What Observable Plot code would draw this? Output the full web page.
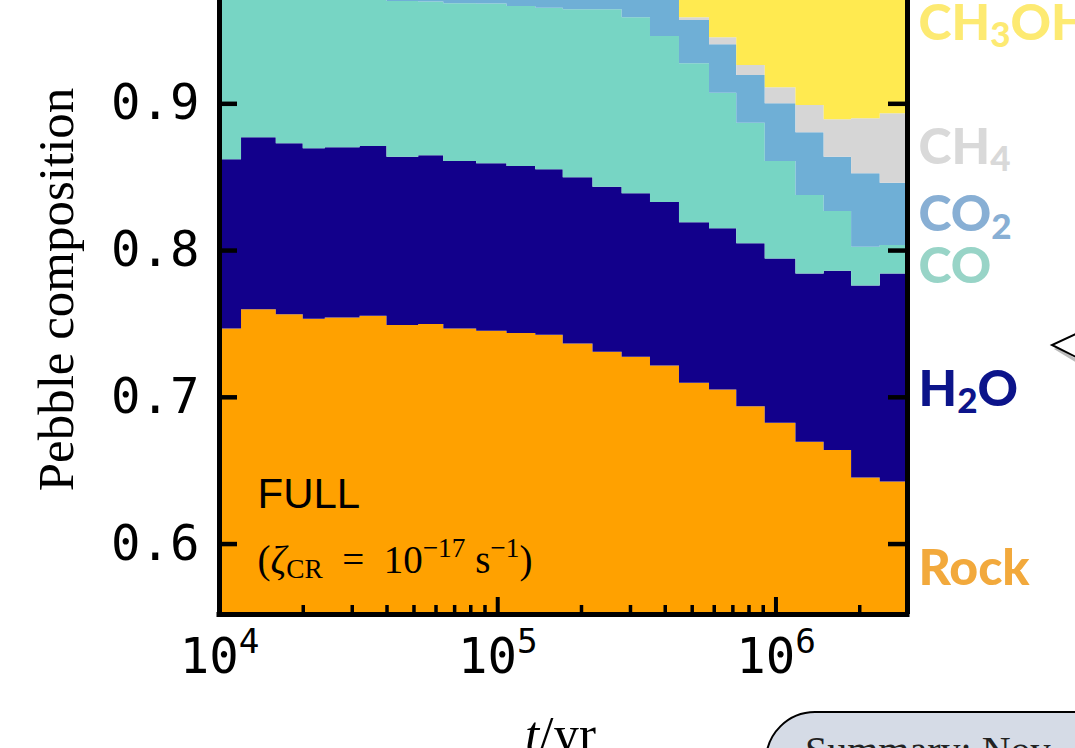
<!DOCTYPE html>
<html>
<head>
<meta charset="utf-8">
<script src="https://cdn.jsdelivr.net/npm/d3@7"></script>
<script src="https://cdn.jsdelivr.net/npm/@observablehq/plot@0.6"></script>
<style>
  html, body { margin: 0; padding: 0; overflow: hidden; background: #fff; }
  #wrap { position: relative; width: 1075px; height: 748px; overflow: hidden; }
  #chart { position: absolute; left: 0; top: 0; }
  #summary { position: absolute; left: 765px; top: 711px; width: 440px; height: 110px;
    box-sizing: border-box; border: 2.5px solid #000; border-radius: 50px; background: #d5dbe6;
    font-family: "Liberation Serif", serif; font-size: 40px; color: #222; padding: 14px 0 0 38px; }
  #chev { position: absolute; left: 1040px; top: 325px; }
</style>
</head>
<body>
<div id="wrap">
  <div id="chart"></div>
  <svg id="chev" width="40" height="45">
    <polyline points="38,10 15,22 38,36" fill="#fff" stroke="#bbb" stroke-width="3" transform="translate(2,2)"/>
    <polyline points="38,8 12,20 38,33" fill="#fff" stroke="#000" stroke-width="2"/>
  </svg>
  <div id="summary">Summary: Nov</div>
</div>
<script>
// ---- data ----
const speciesNames = ["Rock", "H2O", "CO", "CO2", "CH4", "CH3OH"];
const fillColors   = ["#ffa100", "#12008b", "#77d5c4", "#6fafd6", "#d6d6d6", "#ffea50"];
// bin start times (yr)
const times = [1e4, 12000, 16000, 20000, 24000, 32000, 40000, 52000, 64000, 84000, 108000, 137000,
  172000, 220000, 280000, 354000, 450000, 577000, 723000, 915000, 1180000, 1490000, 1870000, 2370000];
const tEnd = 2.97e6;
const rock  = [0.7466,0.7596,0.7562,0.7532,0.7541,0.7552,0.7489,0.7496,0.7466,0.7450,0.7434,0.7423,
               0.7364,0.7307,0.7273,0.7214,0.7095,0.7050,0.6935,0.6823,0.6693,0.6637,0.6451,0.6423];
const water = [0.1152,0.1172,0.1165,0.1161,0.1159,0.1157,0.1147,0.1150,0.1141,0.1141,0.1139,0.1128,
               0.1132,0.1124,0.1114,0.1113,0.1094,0.1098,0.1111,0.1120,0.1148,0.1222,0.1308,0.1418];
const co    = [0.1122,0.0972,0.1003,0.1037,0.1020,0.1001,0.1061,0.1047,0.1075,0.1089,0.1090,0.1101,
               0.1145,0.1210,0.1199,0.1132,0.1084,0.0924,0.0822,0.0664,0.0534,0.0407,0.0264,0.0193];
const co2   = [0.016,0.016,0.017,0.017,0.018,0.019,0.0203,0.0207,0.0218,0.0220,0.0237,0.0248,
               0.0259,0.0259,0.0264,0.0291,0.0295,0.0330,0.0325,0.0393,0.0427,0.0370,0.0500,0.0425];
const ch4   = [0.003,0.003,0.003,0.003,0.003,0.003,0.003,0.003,0.003,0.003,0.003,0.003,
               0.003,0.003,0.003,0.003,0.0018,0.0048,0.0068,0.0109,0.0186,0.0255,0.0375,0.0473];
const ch3oh = [0.007,0.007,0.007,0.007,0.007,0.007,0.007,0.007,0.007,0.007,0.007,0.007,
               0.007,0.007,0.012,0.022,0.0414,0.055,0.0739,0.0891,0.1012,0.1109,0.1102,0.1068];
const series = [rock, water, co, co2, ch4, ch3oh];

const majorX = [1e4, 1e5, 1e6];
const minorX = [2e4,3e4,4e4,5e4,6e4,7e4,8e4,9e4,2e5,3e5,4e5,5e5,6e5,7e5,8e5,9e5,2e6];
const yTicks = [0.6, 0.7, 0.8, 0.9];

// right-hand labels
const labelNames  = ["CH_{3}OH", "CH_{4}", "CO_{2}", "CO", "H_{2}O", "Rock"];
const labelY      = [0.9545, 0.8702, 0.8239, 0.7891, 0.7053, 0.5827];
const labelColors = ["#fdea72", "#d9d9d9", "#88afd4", "#98d4c7", "#0c148a", "#f2a93c"];

// ---- layout ----
const W = 1075, H = 748, mL = 219, mR = 168, mT = 0, mB = 134;
const frameW = W - mL - mR, frameH = H - mT - mB;
const xDomain = [1e4, tEnd], yDomain = [0.552, 0.9704];

const table = [];
series.forEach((vals, k) => {
  [...times, tEnd].forEach((t, i) => {
    table.push({t, species: speciesNames[k], value: vals[Math.min(i, vals.length - 1)]});
  });
});

const mono = "DejaVu Sans Mono";
const labelMarks = labelNames.map((name, i) =>
  Plot.text([name], {x: () => xDomain[1], y: () => labelY[i], text: d => d, dx: 11,
    textAnchor: "start", fill: labelColors[i], fontFamily: "Lato", fontWeight: 900, fontSize: 50})
);

const chart = Plot.plot({
  width: W, height: H,
  marginLeft: mL, marginRight: mR, marginTop: mT, marginBottom: mB,
  x: {type: "log", domain: xDomain, axis: null},
  y: {domain: yDomain, axis: null, label: null},
  color: {domain: speciesNames, range: fillColors},
  style: {fontFamily: mono, fontSize: "49px", color: "black", background: "white", overflow: "visible"},
  marks: [
    Plot.areaY(table, {x: "t", y: "value", z: "species", fill: "species", curve: "step-after",
      order: speciesNames, clip: true}),
    // inward ticks
    Plot.ruleX(majorX, {x: d => d, insetTop: frameH - 17, stroke: "black", strokeWidth: 4}),
    Plot.ruleX(minorX, {x: d => d, insetTop: frameH - 9, stroke: "black", strokeWidth: 3.5}),
    Plot.ruleY(yTicks, {y: d => d, insetRight: frameW - 18, stroke: "black", strokeWidth: 4.5}),
    Plot.ruleY(yTicks, {y: d => d, insetLeft: frameW - 19, stroke: "black", strokeWidth: 4.5}),
    // spines
    Plot.ruleX(xDomain, {x: d => d, stroke: "black", strokeWidth: 5}),
    Plot.ruleY([yDomain[0]], {y: d => d, stroke: "black", strokeWidth: 5, strokeLinecap: "square"}),
    // tick labels
    Plot.axisX(majorX, {anchor: "bottom", tickSize: 0, tickPadding: 24, label: null,
      tickFormat: d => "10^{" + Math.round(Math.log10(d)) + "}", fontFamily: mono, fontSize: 49}),
    Plot.axisY(yTicks, {anchor: "left", tickSize: 0, tickPadding: 20, label: null,
      tickFormat: d3.format(".1f"), fontFamily: mono, fontSize: 49}),
    // axis titles
    Plot.text(["Pebble composition"], {frameAnchor: "left", dx: -163, dy: -18, rotate: -90,
      textAnchor: "middle", fontFamily: "Liberation Serif", fontSize: 51, fill: "black"}),
    Plot.text(["*t*/yr"], {frameAnchor: "bottom", dx: -3, dy: 136, lineAnchor: "bottom",
      textAnchor: "middle", fontFamily: "Liberation Serif", fontSize: 51, fill: "black"}),
    // in-panel annotation
    Plot.text(["FULL"], {frameAnchor: "bottom-left", dx: 38, dy: -107, lineAnchor: "bottom",
      textAnchor: "start", fontFamily: "Liberation Sans", fontSize: 42, fill: "black"}),
    Plot.text(["(*ζ*_{CR}\u2002=\u200210^{−17} s^{−1})"], {frameAnchor: "bottom-left", dx: 38, dy: -42,
      lineAnchor: "bottom", textAnchor: "start", fontFamily: "Liberation Serif", fontSize: 39, fill: "black"}),
    ...labelMarks
  ]
});
document.getElementById("chart").appendChild(chart);

// rich text: ^{sup}, _{sub}, *italic*
const svgNS = "http://www.w3.org/2000/svg";
chart.querySelectorAll("text").forEach(el => {
  const s = el.textContent;
  if (!/\^\{|_\{|\*/.test(s)) return;
  const fs = parseFloat(getComputedStyle(el).fontSize);
  const tokens = s.match(/\^\{[^}]*\}|_\{[^}]*\}|\*[^*]*\*|[^\^_*]+/g);
  el.textContent = "";
  let cur = 0;
  tokens.forEach(tok => {
    let txt = tok, size = null, off = 0, italic = false;
    if (tok.startsWith("^{")) { txt = tok.slice(2, -1); size = 0.7 * fs; off = -0.41 * fs; }
    else if (tok.startsWith("_{")) { txt = tok.slice(2, -1); size = 0.7 * fs; off = 0.15 * fs; }
    else if (tok.startsWith("*")) { txt = tok.slice(1, -1); italic = true; }
    const ts = document.createElementNS(svgNS, "tspan");
    ts.textContent = txt;
    if (size) ts.setAttribute("font-size", size);
    if (off !== cur) { ts.setAttribute("dy", off - cur); cur = off; }
    if (italic) ts.setAttribute("font-style", "italic");
    el.appendChild(ts);
  });
});
</script>
</body>
</html>
